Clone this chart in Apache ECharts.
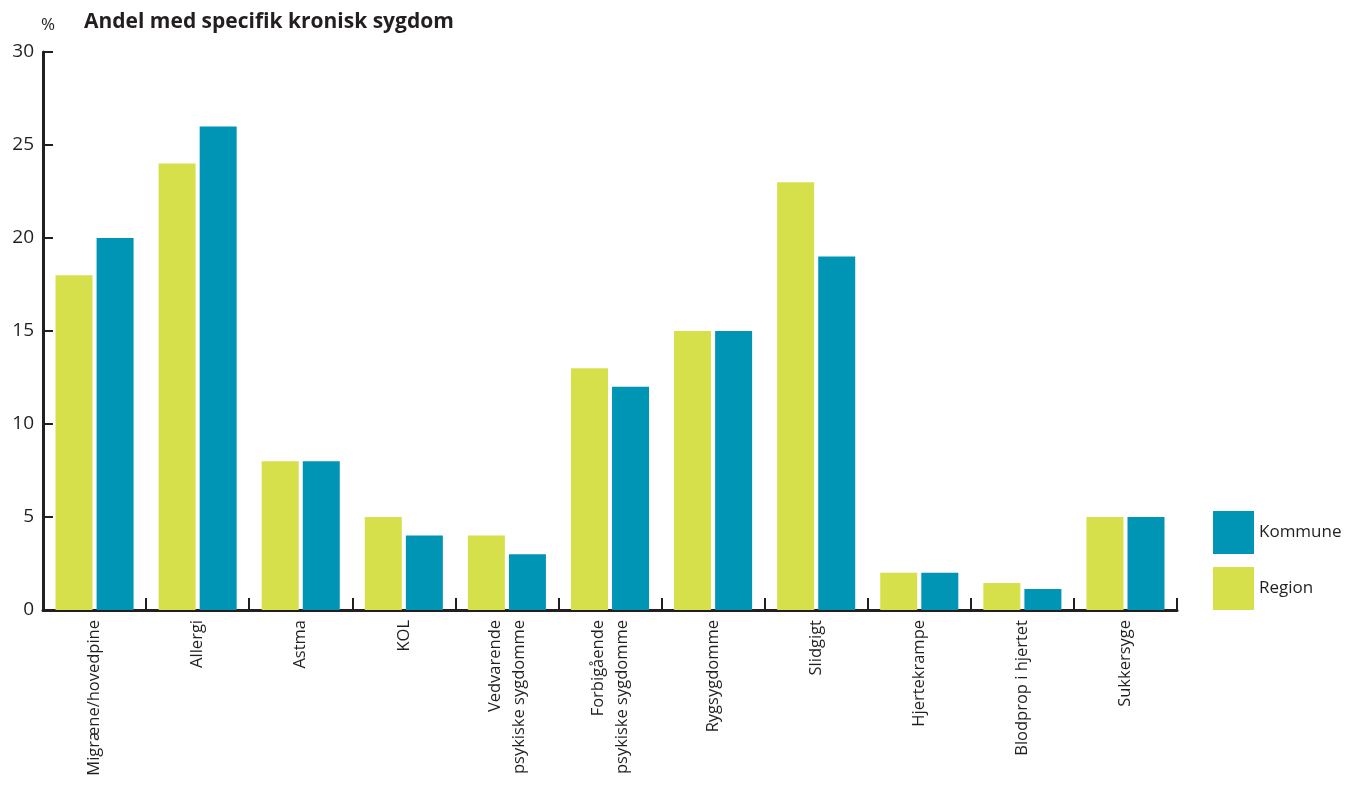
<!DOCTYPE html>
<html>
<head>
<meta charset="utf-8">
<script src="https://cdn.jsdelivr.net/npm/echarts@6/dist/echarts.min.js"></script>
<style>html,body{margin:0;padding:0;background:#fff}#c{width:1349px;height:802px}</style>
</head>
<body>
<div id="c"></div>
<script>
const categories = ['Migræne/hovedpine','Allergi','Astma','KOL','Vedvarende\npsykiske sygdomme','Forbigående\npsykiske sygdomme','Rygsygdomme','Slidgigt','Hjertekrampe','Blodprop i hjertet','Sukkersyge'];
const regionValues = [18, 24, 8, 5, 4, 13, 15, 23, 2, 1.45, 5];
const kommuneValues = [20, 26, 8, 4, 3, 12, 15, 19, 2, 1.13, 5];
const yTicks = [0, 5, 10, 15, 20, 25, 30];

const font = '"Open Sans", "DejaVu Sans", sans-serif';
const axisColor = '#231f20';
const chart = echarts.init(document.getElementById('c'));
chart.setOption({
  animation: false,
  textStyle: { fontFamily: font },
  graphic: [
    { type: 'text', left: 41, top: 17, style: { text: '%', font: '17px ' + font, fill: '#231f20' } },
    { type: 'text', left: 84, top: 12, style: { text: 'Andel med specifik kronisk sygdom', font: 'bold 21px ' + font, fill: '#231f20' } }
  ],
  grid: { left: 43, top: 52, right: 172, bottom: 192, containLabel: false },
  legend: {
    orient: 'vertical', left: 1208, top: 506, itemWidth: 41, itemHeight: 43, itemGap: 13,
    data: ['Kommune', 'Region'],
    textStyle: { fontSize: 17, color: '#231f20', fontFamily: font },
    icon: 'rect'
  },
  xAxis: {
    type: 'category', data: categories,
    axisLine: { lineStyle: { color: axisColor, width: 3 } },
    axisTick: { show: true, inside: true, length: 12, alignWithLabel: false, lineStyle: { color: axisColor, width: 2 } },
    axisLabel: { rotate: 90, fontSize: 16.5, color: '#231f20', margin: 10, interval: 0, lineHeight: 24, fontFamily: font }
  },
  yAxis: {
    type: 'value', min: 0, max: 30, interval: 5,
    axisLine: { show: true, lineStyle: { color: axisColor, width: 3 } },
    axisTick: { show: true, inside: true, length: 10, lineStyle: { color: axisColor, width: 2 } },
    splitLine: { show: false },
    axisLabel: { fontSize: 19, color: '#231f20', margin: 9, fontFamily: font,
      formatter: v => yTicks.includes(v) ? String(v) : '' }
  },
  series: [
    { name: 'Region', type: 'bar', data: regionValues, barWidth: 37, barGap: '11%', itemStyle: { color: '#d5e04b' } },
    { name: 'Kommune', type: 'bar', data: kommuneValues, barWidth: 37, barGap: '11%', itemStyle: { color: '#0094b5' } }
  ]
});
</script>
</body>
</html>
